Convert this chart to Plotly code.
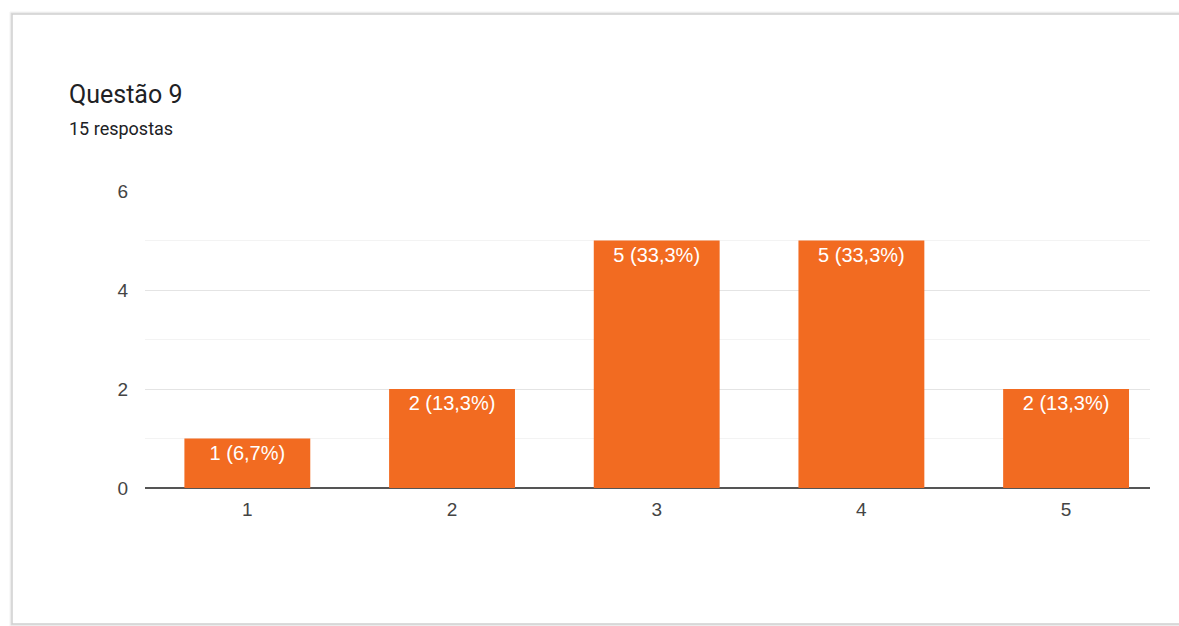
import plotly.graph_objects as go

categories = ["1", "2", "3", "4", "5"]
counts = [1, 2, 5, 5, 2]
total = 15
title_text = "Questão 9"
subtitle_text = "15 respostas"
y_ticks = [0, 2, 4, 6]

labels = [f"{v} ({v / total * 100:.1f}%)".replace(".", ",") for v in counts]

W, H = 1179, 626
L, R, T, B = 145, 29, 191, 138
pw, ph = W - L - R, H - T - B

def px_x(x):
    return (x - L) / pw

def px_y(y):
    return 1 - (y - T) / ph

fig = go.Figure()
fig.add_trace(go.Bar(
    x=categories, y=counts, text=labels,
    textposition="inside", insidetextanchor="end",
    textfont=dict(family="Liberation Sans, Arial", size=20, color="white"),
    constraintext="none",
    marker=dict(color="#F26B21", line=dict(width=0)),
    width=0.615, hoverinfo="skip",
))

shapes = []
for off, col in [(2, "rgba(0,0,0,0.05)"), (1, "rgba(0,0,0,0.10)")]:
    shapes.append(dict(type="rect", xref="paper", yref="paper",
                       x0=px_x(12 - off), x1=px_x(1300), y0=px_y(624 + off), y1=px_y(14 - off),
                       line=dict(color=col, width=1), fillcolor="rgba(0,0,0,0)", layer="below"))
shapes.append(dict(type="rect", xref="paper", yref="paper",
                   x0=px_x(12), x1=px_x(1300), y0=px_y(624), y1=px_y(14),
                   line=dict(color="#cfcfcf", width=1.5), fillcolor="white", layer="below"))
for v in [1, 3, 5]:
    shapes.append(dict(type="line", xref="paper", yref="y", x0=0, x1=1, y0=v, y1=v,
                       line=dict(color="#f3f3f3", width=1), layer="below"))

fig.update_layout(
    width=W, height=H,
    margin=dict(l=L, r=R, t=T, b=B),
    paper_bgcolor="white", plot_bgcolor="rgba(0,0,0,0)",
    showlegend=False,
    shapes=shapes,
    xaxis=dict(type="category", range=[-0.5, 4.41], showgrid=False, showline=False, zeroline=False,
               tickfont=dict(family="Liberation Sans, Arial", size=19, color="#444444"),
               ticks="outside", ticklen=4, tickcolor="rgba(0,0,0,0)"),
    yaxis=dict(range=[0, 6], tickvals=y_ticks, showgrid=True, gridcolor="#e4e4e4", gridwidth=1,
               zeroline=True, zerolinecolor="#555555", zerolinewidth=2,
               tickfont=dict(family="Liberation Sans, Arial", size=19, color="#444444"),
               ticks="outside", ticklen=12, tickcolor="rgba(0,0,0,0)", showline=False),
    annotations=[
        dict(text=title_text, xref="paper", yref="paper", x=px_x(67), y=px_y(95),
             xanchor="left", yanchor="middle", showarrow=False,
             font=dict(family="Roboto", size=25, color="#202124")),
        dict(text=subtitle_text, xref="paper", yref="paper", x=px_x(67), y=px_y(128),
             xanchor="left", yanchor="middle", showarrow=False,
             font=dict(family="Roboto", size=18, color="#202124")),
    ],
)

fig.write_html("out.html")
